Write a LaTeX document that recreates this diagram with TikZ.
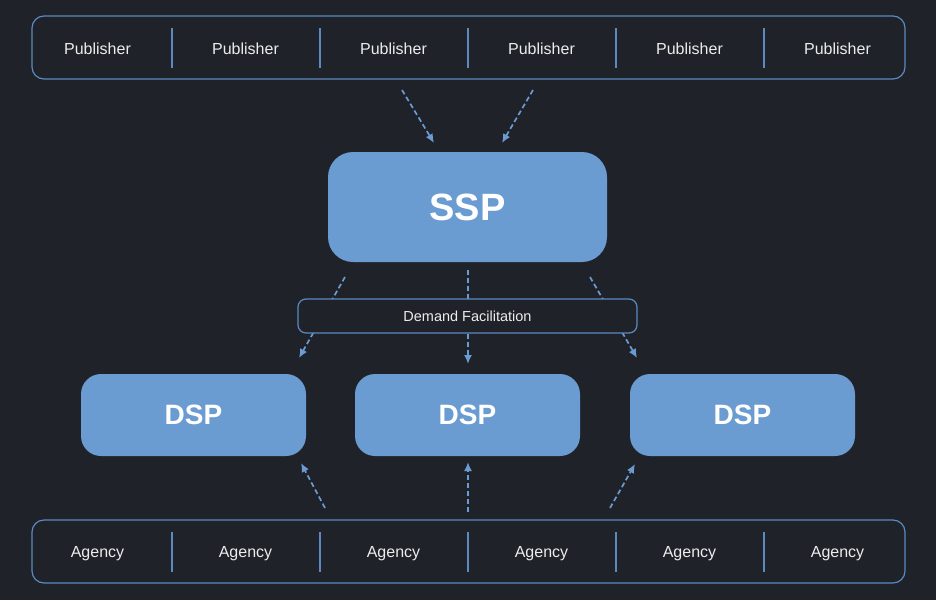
\documentclass[tikz,border=0pt]{standalone}
\usepackage{fontspec}
\setmainfont{Liberation Sans}
\usetikzlibrary{arrows.meta}
\definecolor{bg}{HTML}{1F2229}
\definecolor{boxfill}{HTML}{6A9BD1}
\definecolor{edge}{HTML}{5B8AC0}
\definecolor{txt}{HTML}{ECECEC}
\tikzset{
  bar/.style={draw=edge, line width=1.2pt, rounded corners=12pt, fill=bg, minimum width=873pt, minimum height=63pt, inner sep=0pt},
  cell/.style={text=txt, font=\fontsize{16}{18}\selectfont, inner sep=0pt, anchor=base},
  divider/.style={draw=edge, line width=1.2pt},
  bigbox/.style={fill=boxfill, draw=none, rounded corners=25pt, minimum width=279pt, minimum height=110pt, inner sep=0pt, text=white, font=\bfseries\fontsize{38}{40}\selectfont},
  dspbox/.style={fill=boxfill, draw=none, rounded corners=20pt, minimum width=225pt, minimum height=82pt, inner sep=0pt, text=white, font=\bfseries\fontsize{28}{30}\selectfont},
  facbox/.style={draw=edge, line width=1.2pt, fill=bg, rounded corners=8pt, minimum width=339pt, minimum height=34pt, inner sep=0pt, text=txt, font=\fontsize{14.5}{16}\selectfont},
  flow/.style={draw=boxfill, line width=1.7pt, dash pattern=on 5pt off 3pt, -{Latex[length=9pt,width=8pt]}}
}
\begin{document}
\begin{tikzpicture}[x=1pt,y=-1pt]
\fill[bg] (0,0) rectangle (936,600);
\useasboundingbox (0,0) rectangle (936,600);

% top bar
\node[bar] (topbar) at (468.5,47.5) {};
\foreach \i in {0,...,5}{
  \node[cell] (pub\i) at ({97.5+148*\i},54) {Publisher};
}
\foreach \i in {0,...,4}{
  \draw[divider] ({172+148*\i},28) -- ({172+148*\i},68);
}

% bottom bar
\node[bar] (botbar) at (468.5,551.5) {};
\foreach \i in {0,...,5}{
  \node[cell] (ag\i) at ({97.5+148*\i},557.5) {Agency};
}
\foreach \i in {0,...,4}{
  \draw[divider] ({172+148*\i},532) -- ({172+148*\i},572);
}

% SSP
\node[bigbox] (ssp) at (467.5,207) {SSP};

% DSPs
\node[dspbox] (dsp1) at (193.5,415) {DSP};
\node[dspbox] (dsp2) at (467.5,415) {DSP};
\node[dspbox] (dsp3) at (742.5,415) {DSP};

% coordinates
\coordinate (p1) at (402,90);
\coordinate (p1e) at (434,143);
\coordinate (p2) at (533,90);
\coordinate (p2e) at (502,143);
\coordinate (s1) at (345,277);
\coordinate (s1e) at (299,358);
\coordinate (s2) at (468,270);
\coordinate (s2e) at (468,364);
\coordinate (s3) at (590,277);
\coordinate (s3e) at (637,358);
\coordinate (a1) at (325,508);
\coordinate (a1e) at (301,463);
\coordinate (a2) at (468,512);
\coordinate (a2e) at (468,462);
\coordinate (a3) at (610,508);
\coordinate (a3e) at (635,464);

\draw[flow] (p1) -- (p1e);
\draw[flow] (p2) -- (p2e);
\draw[flow] (s1) -- (s1e);
\draw[flow] (s2) -- (s2e);
\draw[flow] (s3) -- (s3e);
\draw[flow] (a1) -- (a1e);
\draw[flow] (a2) -- (a2e);
\draw[flow] (a3) -- (a3e);

% Demand facilitation on top of arrows
\node[facbox] (fac) at (467.5,316) {Demand Facilitation};
\end{tikzpicture}
\end{document}
